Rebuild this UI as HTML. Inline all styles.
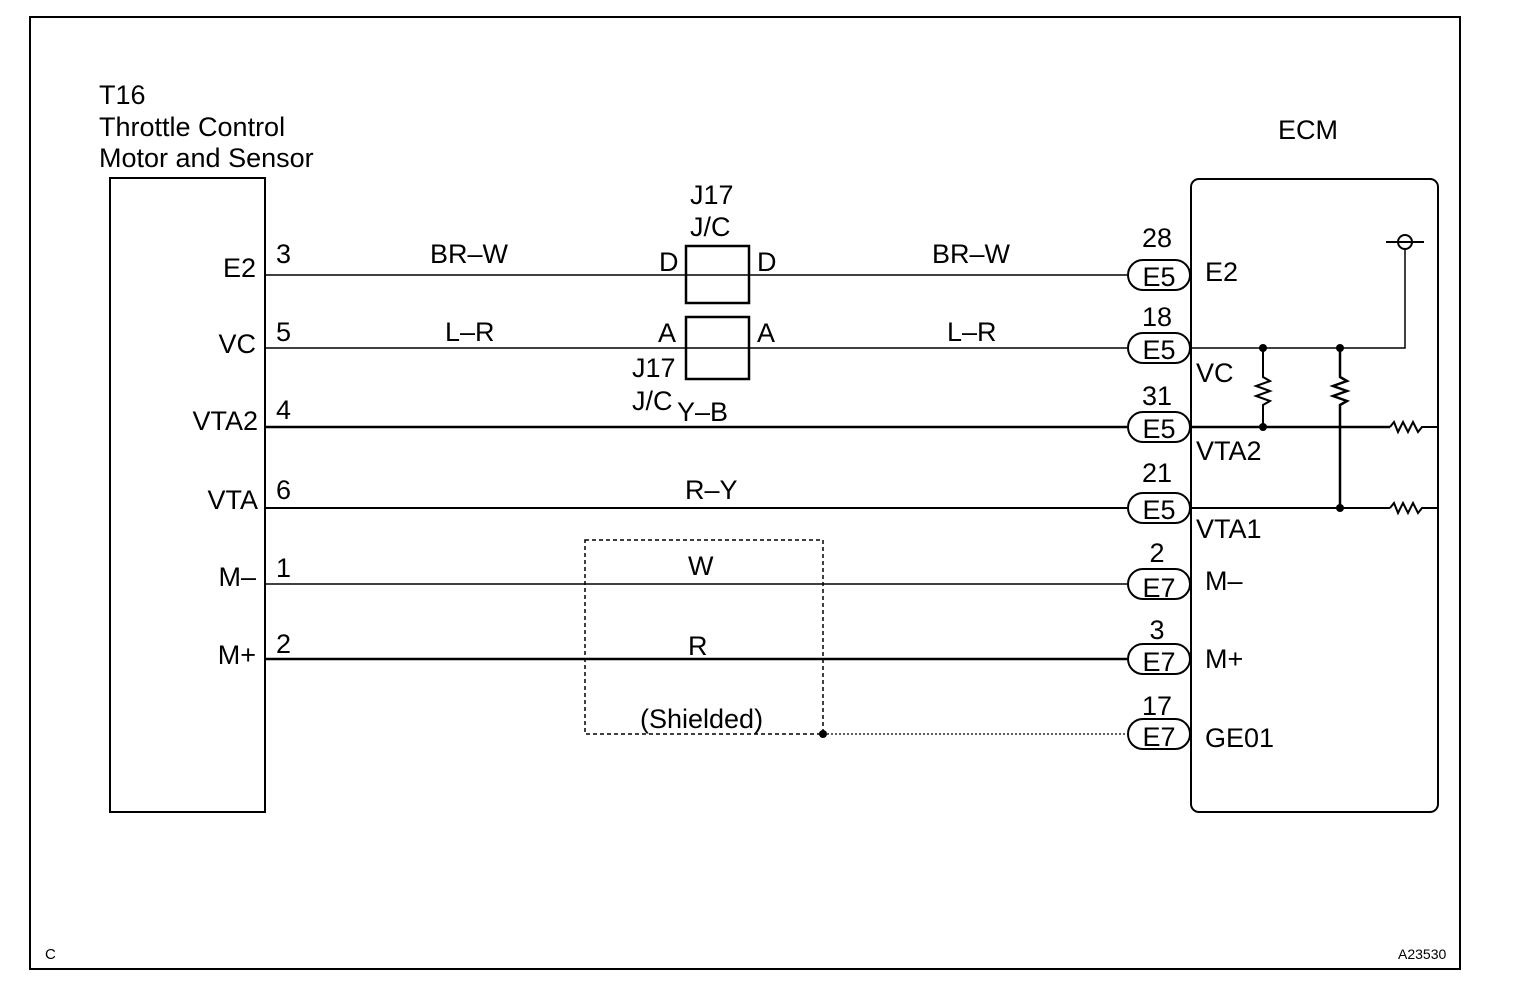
<!DOCTYPE html>
<html><head><style>
body{margin:0;background:#fff}
svg text{font-family:"Liberation Sans",Arial,sans-serif;font-size:27px;fill:#000}
</style></head><body>
<svg width="1520" height="988" viewBox="0 0 1520 988" xmlns="http://www.w3.org/2000/svg">
<rect x="30" y="17" width="1430" height="952" fill="none" stroke="#000" stroke-width="2"/>
<rect x="110" y="178" width="155" height="634" fill="none" stroke="#000" stroke-width="2"/>
<rect x="1191" y="179" width="247" height="633" rx="8" fill="none" stroke="#000" stroke-width="2"/>
<text x="99" y="104">T16</text>
<text x="99" y="136">Throttle Control</text>
<text x="99" y="167">Motor and Sensor</text>
<text x="1278" y="139">ECM</text>
<g text-anchor="end">
<text x="256" y="277">E2</text><text x="256" y="353">VC</text><text x="258" y="430">VTA2</text>
<text x="258" y="509">VTA</text><text x="256" y="586">M–</text><text x="256" y="664">M+</text>
</g>
<text x="276" y="263">3</text><text x="276" y="341">5</text><text x="276" y="419">4</text>
<text x="276" y="499">6</text><text x="276" y="577">1</text><text x="276" y="653">2</text>
<g stroke="#000" fill="none">
<line x1="265" y1="275" x2="1127" y2="275" stroke-width="1.5"/>
<line x1="265" y1="348" x2="1127" y2="348" stroke-width="1.5"/>
<line x1="265" y1="427" x2="1127" y2="427" stroke-width="2.5"/>
<line x1="265" y1="508" x2="1127" y2="508" stroke-width="2"/>
<line x1="265" y1="584" x2="1127" y2="584" stroke-width="1.5"/>
<line x1="265" y1="659" x2="1127" y2="659" stroke-width="2.5"/>
<line x1="823" y1="734" x2="1127" y2="734" stroke-width="1.2" stroke-dasharray="2,2"/>
<rect x="585" y="540" width="238" height="194" stroke-width="1.5" stroke-dasharray="4,3"/>
<rect x="686" y="246" width="63" height="57" stroke-width="2.5" fill="#fff"/>
<rect x="686" y="317" width="63" height="62" stroke-width="2.5" fill="#fff"/>
<line x1="686" y1="275" x2="749" y2="275" stroke-width="1.5"/>
<line x1="686" y1="348" x2="749" y2="348" stroke-width="1.5"/>
</g>
<circle cx="823" cy="734" r="4" fill="#000"/>
<text x="430" y="263">BR–W</text><text x="932" y="263">BR–W</text>
<text x="445" y="341">L–R</text><text x="947" y="341">L–R</text>
<text x="677" y="421">Y–B</text><text x="685" y="499">R–Y</text>
<text x="688" y="575">W</text><text x="688" y="655">R</text>
<text x="640" y="728">(Shielded)</text>
<text x="690" y="204">J17</text><text x="690" y="236">J/C</text>
<text x="659" y="271">D</text><text x="757" y="271">D</text>
<text x="658" y="342">A</text><text x="757" y="342">A</text>
<text x="632" y="377">J17</text><text x="632" y="410">J/C</text>
<g stroke="#000" stroke-width="2" fill="#fff">
<rect x="1128" y="260" width="62" height="30" rx="15"/>
<rect x="1128" y="333" width="62" height="30" rx="15"/>
<rect x="1128" y="412" width="62" height="30" rx="15"/>
<rect x="1128" y="493" width="62" height="30" rx="15"/>
<rect x="1128" y="569" width="62" height="30" rx="15"/>
<rect x="1128" y="644" width="62" height="30" rx="15"/>
<rect x="1128" y="719" width="62" height="30" rx="15"/>
</g>
<g text-anchor="middle">
<text x="1159" y="286">E5</text><text x="1159" y="359">E5</text><text x="1159" y="438">E5</text>
<text x="1159" y="519">E5</text><text x="1159" y="597">E7</text><text x="1159" y="671">E7</text><text x="1159" y="746">E7</text>
<text x="1157" y="247">28</text><text x="1157" y="326">18</text><text x="1157" y="405">31</text>
<text x="1157" y="482">21</text><text x="1157" y="562">2</text><text x="1157" y="639">3</text><text x="1157" y="715">17</text>
</g>
<text x="1205" y="281">E2</text><text x="1196" y="382">VC</text><text x="1196" y="460">VTA2</text>
<text x="1196" y="538">VTA1</text><text x="1205" y="590">M–</text><text x="1205" y="668">M+</text><text x="1205" y="747">GE01</text>
<g stroke="#000" fill="none">
<polyline points="1191,348 1405,348 1405,250" stroke-width="1.5"/>
<circle cx="1405" cy="242" r="7" stroke-width="2"/>
<line x1="1386" y1="242" x2="1424" y2="242" stroke-width="2"/>
<line x1="1191" y1="427" x2="1390" y2="427" stroke-width="2.5"/>
<line x1="1191" y1="508" x2="1390" y2="508" stroke-width="2"/>
<polyline points="1390,427 1394,422 1398,432 1403,422 1408,432 1413,422 1418,432 1422,427 1438,427" stroke-width="2"/>
<polyline points="1390,508 1394,503 1398,513 1403,503 1408,513 1413,503 1418,513 1422,508 1438,508" stroke-width="2"/>
<polyline points="1263,348 1263,377 1270,381 1256,386 1270,391 1256,396 1270,401 1263,405 1263,427" stroke-width="2"/>
<polyline points="1340,348 1340,377 1347,381 1333,386 1347,391 1333,396 1347,401 1340,405 1340,508" stroke-width="2.5"/>
</g>
<g fill="#000">
<circle cx="1263" cy="348" r="4"/><circle cx="1340" cy="348" r="4"/>
<circle cx="1263" cy="427" r="4"/><circle cx="1340" cy="508" r="4"/>
</g>
<text x="45" y="959" style="font-size:15px">C</text>
<text x="1398" y="959" style="font-size:14px">A23530</text>
</svg>
</body></html>
